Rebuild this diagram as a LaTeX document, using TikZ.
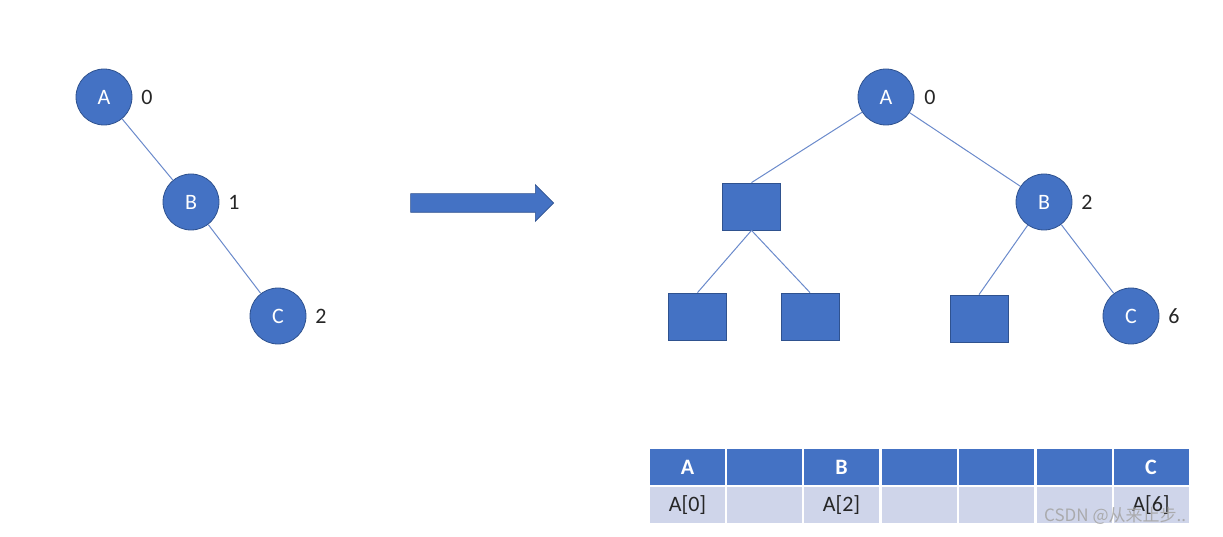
\documentclass[tikz,border=0pt]{standalone}
\usepackage{fontspec}
\setmainfont{Carlito}
\newfontfamily\cjk{Noto Sans CJK SC}
\usetikzlibrary{shapes.arrows}
\definecolor{fillblue}{HTML}{4472C4}
\definecolor{edgeblue}{HTML}{2F528F}
\definecolor{lineblue}{HTML}{6A8ACB}
\definecolor{lightrow}{HTML}{CFD5EA}
\tikzset{
  vtx/.style={circle, fill=fillblue, draw=edgeblue, line width=0.8pt, minimum size=56pt, inner sep=0pt, text=white, font=\fontsize{22}{24}\selectfont},
  sq/.style={rectangle, fill=fillblue, draw=edgeblue, line width=0.8pt, minimum width=58pt, minimum height=47pt, inner sep=0pt},
  idx/.style={font=\fontsize{22}{26}\selectfont, text=black!85},
  conn/.style={draw=lineblue, line width=1pt},
  hdr/.style={rectangle, fill=fillblue, minimum width=75pt, minimum height=36pt, inner sep=0pt, text=white, font=\bfseries\fontsize{22}{24}\selectfont},
  cell/.style={rectangle, fill=lightrow, minimum width=75pt, minimum height=36pt, inner sep=0pt, text=black!85, font=\fontsize{22}{26}\selectfont},
}
\begin{document}
\begin{tikzpicture}[x=1pt,y=-1pt]
\useasboundingbox (0,0) rectangle (1223,537);
% left tree
\node[vtx] (lA) at (104,97) {A};
\node[vtx] (lB) at (191,202) {B};
\node[vtx] (lC) at (278,316) {C};
\node[idx] (l0) at (147,97) {0};
\node[idx] (l1) at (234,202) {1};
\node[idx] (l2) at (321,316) {2};
\draw[conn] (lA) -- (lB);
\draw[conn] (lB) -- (lC);
% arrow
\node[single arrow, fill=fillblue, draw=edgeblue, line width=0.6pt, minimum width=36pt, single arrow head extend=9pt, single arrow head indent=0pt, minimum height=143pt, inner xsep=0pt, inner ysep=9pt, shape border rotate=0] (arr) at (477.5,203) {};
% right tree
\node[vtx] (rA) at (886,97) {A};
\node[vtx] (rB) at (1044,202) {B};
\node[vtx] (rC) at (1131,316) {C};
\node[idx] (r0) at (930,97) {0};
\node[idx] (r2) at (1087,202) {2};
\node[idx] (r6) at (1174,316) {6};
\node[sq] (s1) at (751.5,206.5) {};
\node[sq] (s2) at (697.5,316.5) {};
\node[sq] (s3) at (810,316.5) {};
\node[sq] (s4) at (979,318.5) {};
\draw[conn] (rA) -- (s1.north);
\draw[conn] (rA) -- (rB);
\draw[conn] (s1.south) -- (s2.north);
\draw[conn] (s1.south) -- (s3.north);
\draw[conn] (rB) -- (s4.north);
\draw[conn] (rB) -- (rC);
% table
\node[hdr] (h1) at (687.5,467) {A};
\node[hdr] (h2) at (764.5,467) {};
\node[hdr] (h3) at (841.5,467) {B};
\node[hdr] (h4) at (919,467) {};
\node[hdr] (h5) at (996.5,467) {};
\node[hdr] (h6) at (1074,467) {};
\node[hdr] (h7) at (1151,467) {C};
\node[cell] (c1) at (687.5,505) {A[0]};
\node[cell] (c2) at (764.5,505) {};
\node[cell] (c3) at (841.5,505) {A[2]};
\node[cell] (c4) at (919,505) {};
\node[cell] (c5) at (996.5,505) {};
\node[cell] (c6) at (1074,505) {};
\node[cell] (c7) at (1151,505) {A[6]};
% watermark
\node[text=gray!70, opacity=0.9, font=\cjk\fontsize{17}{20}\selectfont, anchor=west, inner sep=0pt] (wm) at (1044,516) {CSDN @从来止步..};
\end{tikzpicture}
\end{document}
